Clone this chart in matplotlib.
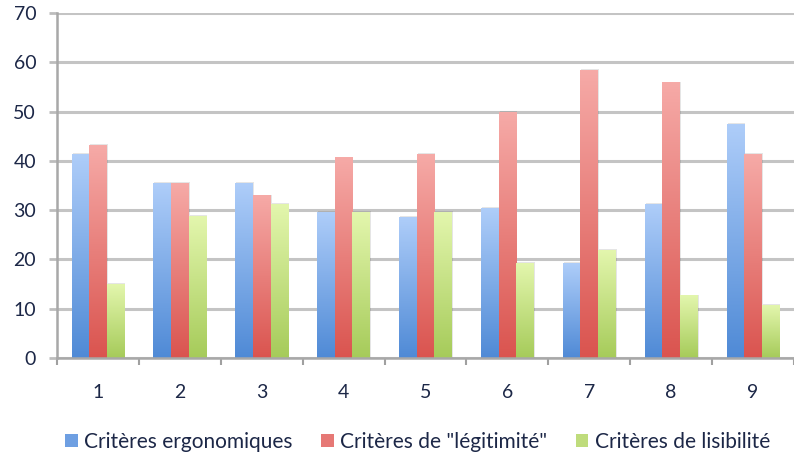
import numpy as np
import matplotlib.pyplot as plt
from matplotlib.colors import LinearSegmentedColormap
from matplotlib.patches import Patch

plt.rcParams['font.family'] = ['Lato', 'DejaVu Sans']

groups = ['1', '2', '3', '4', '5', '6', '7', '8', '9']
series_names = ['Critères ergonomiques', 'Critères de "légitimité"', 'Critères de lisibilité']
ergonomiques = [41.3, 35.4, 35.4, 29.5, 28.5, 30.4, 19.2, 31.2, 47.4]
legitimite = [43.1, 35.4, 32.9, 40.6, 41.3, 49.8, 58.4, 55.8, 41.3]
lisibilite = [14.9, 28.7, 31.2, 29.5, 29.5, 19.2, 21.9, 12.6, 10.7]

# bottom colour, top colour for each series
grad_colors = [('#4f8ad6', '#aecdf9'), ('#da544f', '#f6aaa7'), ('#a6cb5a', '#e3f6ad')]
legend_colors = ['#6e9fe2', '#e67875', '#bfdc7c']
text_color = '#1c2747'

fig = plt.figure(figsize=(7.94, 4.57), dpi=100)
ax = fig.add_axes([57 / 794, 99 / 457, (794 - 57) / 794, 345 / 457])

x = np.arange(1, len(groups) + 1)
w = 0.215
grad = np.linspace(1, 0, 200).reshape(-1, 1)

for i, vals in enumerate([ergonomiques, legitimite, lisibilite]):
    bars = ax.bar(x + (i - 1) * w, vals, w, color='none', edgecolor='none')
    cm = LinearSegmentedColormap.from_list('g%d' % i, grad_colors[i])
    for rect in bars:
        x0 = rect.get_x()
        x1 = x0 + rect.get_width()
        h = rect.get_height()
        # soft shadow
        ax.add_patch(plt.Rectangle((x0 + 0.012, 0), rect.get_width(), h + 0.25,
                                   color='#000000', alpha=0.10, lw=0, zorder=1.5))
        ax.imshow(grad, extent=[x0, x1, 0, h], cmap=cm, aspect='auto',
                  vmin=0, vmax=1, zorder=2, interpolation='bilinear')

ax.set_xlim(0.5, 0.5 + (794 - 56.7) / 82.4)
ax.set_ylim(0, 70)
ax.set_aspect('auto')

ax.set_yticks(np.arange(0, 71, 10))
ax.yaxis.grid(True, color='#c4c4c4', lw=2.2)
ax.set_axisbelow(True)

ax.set_xticks(np.arange(0.5, 10, 1))
ax.set_xticklabels([])
ax.set_xticks(x, minor=True)
ax.set_xticklabels(groups, minor=True)
ax.tick_params(axis='x', which='major', length=5, width=1.5, color='#a0a0a0', direction='out')
ax.tick_params(axis='x', which='minor', length=0, pad=19, labelsize=14, labelcolor=text_color)
ax.tick_params(axis='y', length=6, width=2, color='#bdbdbd', direction='out', pad=9,
               labelsize=14, labelcolor=text_color)

for s in ['top', 'right']:
    ax.spines[s].set_visible(False)
ax.spines['left'].set_color('#a8a8a8')
ax.spines['left'].set_linewidth(1.8)
ax.spines['bottom'].set_color('#a8a8a8')
ax.spines['bottom'].set_linewidth(1.8)

handles = [Patch(facecolor=c, edgecolor='none') for c in legend_colors]
leg = fig.legend(handles, series_names, loc='center', bbox_to_anchor=(0.526, 1 - 442 / 457),
                 ncol=3, frameon=False, fontsize=15, handlelength=0.62, handleheight=0.62,
                 handletextpad=0.3, columnspacing=1.35)
for t in leg.get_texts():
    t.set_color(text_color)

fig.savefig('out.png', dpi=100)
